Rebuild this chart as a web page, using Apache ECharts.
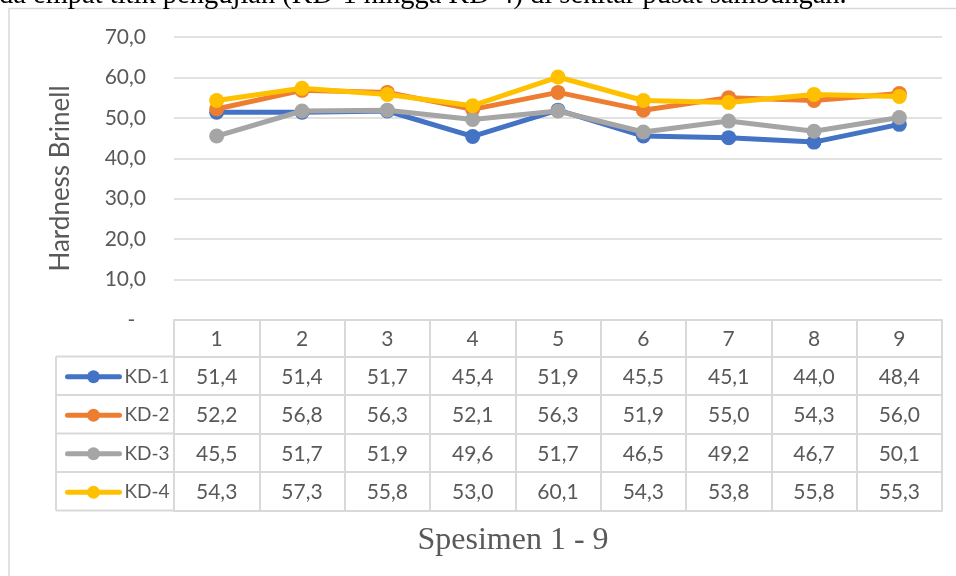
<!DOCTYPE html>
<html>
<head>
<meta charset="utf-8">
<script src="https://cdn.jsdelivr.net/npm/echarts@6/dist/echarts.min.js"></script>
<style>
  html, body { margin: 0; padding: 0; background: #ffffff; }
  #chart { width: 956px; height: 576px; }
</style>
</head>
<body>
<div id="chart"></div>
<script>
// Specimen numbers (category axis / table header)
const specimens = ['1', '2', '3', '4', '5', '6', '7', '8', '9'];
// Measurement points
const seriesNames = ['KD-1', 'KD-2', 'KD-3', 'KD-4'];
// Brinell hardness per specimen for each point
const kd1 = [51.4, 51.4, 51.7, 45.4, 51.9, 45.5, 45.1, 44.0, 48.4];
const kd2 = [52.2, 56.8, 56.3, 52.1, 56.3, 51.9, 55.0, 54.3, 56.0];
const kd3 = [45.5, 51.7, 51.9, 49.6, 51.7, 46.5, 49.2, 46.7, 50.1];
const kd4 = [54.3, 57.3, 55.8, 53.0, 60.1, 54.3, 53.8, 55.8, 55.3];
// Value axis range
const yMin = 0, yMax = 70, yStep = 10;

const seriesValues = [kd1, kd2, kd3, kd4];
const palette = ['#4472C4', '#ED7D31', '#A5A5A5', '#FFC000'];
const textColor = '#595959';
const ruleColor = '#d9d9d9';
const sans = 'Lato, "Noto Sans", sans-serif';
const serif = '"Liberation Serif", "DejaVu Serif", serif';

// Layout of the plot and of the data table underneath it
const W = 956, H = 576;
const gridLeft = 174, gridRight = 14, gridTop = 37, plotBottom = 320;
const headerH = 36.5, rowH = 38.5;
const legendColLeft = 56;
const legendFont = 19;

const fmt = v => v.toFixed(1).replace('.', ',');

// Table rows are drawn as extra category axes stacked below the plot
const xAxes = [{
  type: 'category',
  data: specimens,
  boundaryGap: true,
  position: 'bottom',
  offset: 0,
  axisLine: { show: true, onZero: false, lineStyle: { color: ruleColor, width: 2 } },
  axisTick: { show: true, interval: 0, length: headerH + rowH * 4, lineStyle: { color: ruleColor, width: 2 } },
  axisLabel: { interval: 0, margin: headerH / 2 + 1, verticalAlign: 'middle',
               color: textColor, fontFamily: sans, fontSize: 21 },
  splitLine: { show: false }
}];
seriesValues.forEach((vals, k) => {
  xAxes.push({
    type: 'category',
    data: specimens,
    position: 'bottom',
    offset: headerH + rowH * k,
    axisLine: { show: true, onZero: false, lineStyle: { color: ruleColor, width: 2 } },
    axisTick: { show: false },
    axisLabel: { interval: 0, margin: rowH / 2 + 1, verticalAlign: 'middle',
                 color: textColor, fontFamily: sans, fontSize: 21,
                 formatter: (val, idx) => fmt(vals[idx]) },
    splitLine: { show: false }
  });
});
xAxes.push({
  type: 'category',
  data: specimens,
  position: 'bottom',
  offset: headerH + rowH * 4,
  axisLine: { show: true, onZero: false, lineStyle: { color: ruleColor, width: 2 } },
  axisTick: { show: false },
  axisLabel: { show: false },
  splitLine: { show: false }
});

// Borders of the legend column on the left of the table
const legendBorders = [];
for (let k = 0; k <= 4; k++) {
  const y = plotBottom + headerH + rowH * k;
  legendBorders.push({ type: 'line', silent: true,
    shape: { x1: legendColLeft, y1: y, x2: gridLeft, y2: y },
    style: { stroke: ruleColor, lineWidth: 2 } });
}
legendBorders.push({ type: 'line', silent: true,
  shape: { x1: legendColLeft, y1: plotBottom + headerH, x2: legendColLeft, y2: plotBottom + headerH + rowH * 4 },
  style: { stroke: ruleColor, lineWidth: 2 } });

const option = {
  animation: false,
  backgroundColor: '#ffffff',
  grid: { left: gridLeft, right: gridRight, top: gridTop, bottom: H - plotBottom,
          containLabel: false, outerBoundsMode: 'none' },
  xAxis: xAxes,
  yAxis: {
    type: 'value',
    min: yMin, max: yMax, interval: yStep,
    name: 'Hardness Brinell',
    nameLocation: 'middle',
    nameRotate: 90,
    nameGap: 100,
    nameTextStyle: { color: textColor, fontFamily: sans, fontSize: 26 },
    axisLine: { show: false },
    axisTick: { show: false },
    axisLabel: { margin: 28, color: textColor, fontFamily: sans, fontSize: 21,
                 formatter: v => (v === 0 ? '-  ' : fmt(v)) },
    splitLine: { show: true, lineStyle: { color: ruleColor, width: 1.5 } }
  },
  legend: {
    data: seriesNames,
    orient: 'vertical',
    left: 65,
    top: plotBottom + headerH + rowH / 2 - (legendFont / 2) + 1,
    padding: 0,
    itemWidth: 52,
    itemHeight: 16,
    itemGap: rowH - legendFont,
    selectedMode: false,
    lineStyle: { width: 5 },
    textStyle: { color: textColor, fontFamily: sans, fontSize: legendFont }
  },
  series: seriesValues.map((vals, k) => ({
    name: seriesNames[k],
    type: 'line',
    xAxisIndex: 0,
    data: vals,
    symbol: 'circle',
    symbolSize: 15,
    color: palette[k],
    lineStyle: { color: palette[k], width: 5, cap: 'round', join: 'round' },
    itemStyle: { color: palette[k] },
    emphasis: { disabled: true },
    z: 3 + k
  })),
  graphic: [
    { type: 'rect', silent: true,
      shape: { x: 9, y: 8.5, width: 1200, height: 1200 },
      style: { fill: 'none', stroke: ruleColor, lineWidth: 1.5 } },
    { type: 'text', silent: true,
      style: { text: 'da empat titik pengujian (KD-1 hingga KD-4) di sekitar pusat sambungan.',
               x: -1, y: -4, align: 'left', verticalAlign: 'middle',
               fill: '#000000', font: '28.5px ' + serif } },
    { type: 'text', silent: true,
      style: { text: 'Spesimen 1 - 9', x: 513, y: 541, align: 'center', verticalAlign: 'middle',
               fill: textColor, font: '32px ' + serif } }
  ].concat(legendBorders)
};

const chart = echarts.init(document.getElementById('chart'), null, { renderer: 'canvas', width: W, height: H });
chart.setOption(option);
</script>
</body>
</html>
